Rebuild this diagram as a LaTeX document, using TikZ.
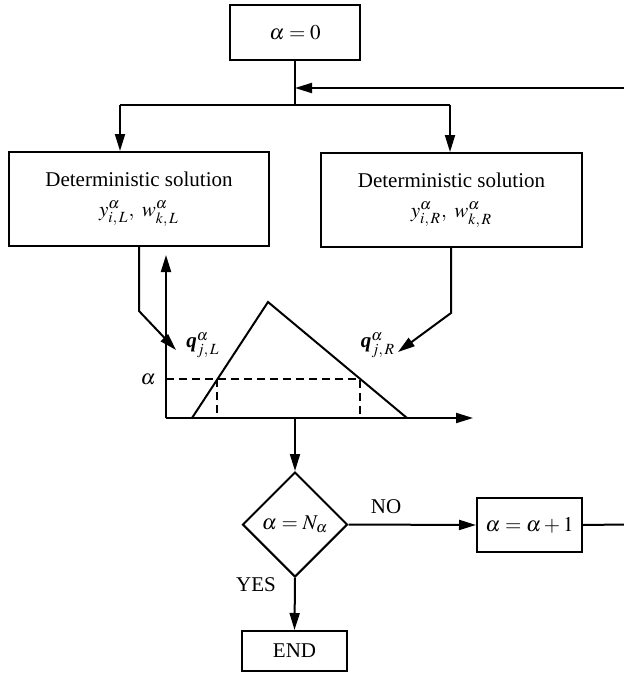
\documentclass[tikz,border=0pt]{standalone}
\usepackage{mathptmx}
\usepackage{fontspec}
\setmainfont{Liberation Serif}
\usetikzlibrary{shapes.geometric,arrows.meta}
\tikzset{
  boxnode/.style={draw,line width=1pt,inner sep=0pt,align=center,font=\fontsize{10.5}{12}\selectfont},
  ln/.style={line width=1pt},
  arr/.style={line width=1pt,-{Triangle[length=8.5pt,width=5pt]}},
  dsh/.style={line width=0.8pt,dash pattern=on 4pt off 2.5pt},
  lbl/.style={font=\fontsize{10.5}{12}\selectfont,inner sep=0pt}
}
\begin{document}
\begin{tikzpicture}[x=0.5pt,y=-0.5pt]
\useasboundingbox (0,0) rectangle (624,674);
% nodes
\node[boxnode,minimum width=65pt,minimum height=27.5pt] (a0) at (295,32.5) {$\alpha = 0$};
\node[boxnode,minimum width=130pt,minimum height=47pt] (L) at (139,199) {Deterministic solution\\[3pt] $y^{\alpha}_{i,\,L},\ w^{\alpha}_{k,\,L}$};
\node[boxnode,minimum width=130.5pt,minimum height=47pt] (R) at (451.5,200) {Deterministic solution\\[3pt] $y^{\alpha}_{i,\,R},\ w^{\alpha}_{k,\,R}$};
\node[boxnode,shape=diamond,minimum width=52.5pt,minimum height=52.5pt,shape aspect=1] (D) at (295,524.5) {$\alpha = N_{\alpha}$};
\node[boxnode,minimum width=52.5pt,minimum height=27pt] (inc) at (529.5,525) {$\alpha = \alpha + 1$};
\node[boxnode,minimum width=52.5pt,minimum height=20pt] (end) at (294.5,651) {END};
% coordinates
\coordinate (split) at (295,105);
\coordinate (sl) at (120,105);
\coordinate (sr) at (450,105);
\coordinate (rin) at (624,88);
\coordinate (rout) at (624,524.5);
\coordinate (o) at (166,418);
\coordinate (xend) at (473,418);
\coordinate (yend) at (166,255);
\coordinate (lb) at (139,311);
\coordinate (lt) at (176,350);
\coordinate (rb) at (451,313);
\coordinate (rt) at (398,352);
\coordinate (t1) at (192,418);
\coordinate (t2) at (268,302);
\coordinate (t3) at (407,418);
\coordinate (d1) at (166,379);
\coordinate (d2) at (217,379);
\coordinate (d3) at (360,379);
\coordinate (ax) at (295,418);
% connectors
\draw[ln] (a0.south) -- (split);
\draw[arr] (rin) -- (rin -| a0.south);
\draw[ln] (sl) -- (sr);
\draw[arr] (sl) -- (sl |- L.north);
\draw[arr] (sr) -- (sr |- R.north);
\draw[arr] (L.south) -- (lb) -- (lt);
\draw[arr] (R.south -| rb) -- (rb) -- (rt);
\draw[arr] (o) -- (yend);
\draw[arr] (o) -- (xend);
\draw[ln] (t1) -- (t2) -- (t3);
\draw[dsh] (d1) -- (d3) -- (d3 |- o);
\draw[dsh] (d2) -- (d2 |- o);
\draw[arr] (ax) -- (D.north);
\draw[arr] (D.east) -- (inc.west);
\draw[ln] (inc.east) -- (rout);
\draw[arr] (D.south) -- (end.north);
% labels
\node[lbl] (alab) at (148,379) {$\alpha$};
\node[lbl] (qL) at (203,345) {\textbf{\textit{q}}$^{\alpha}_{j,\,L}$};
\node[lbl] (qR) at (378,345) {\textbf{\textit{q}}$^{\alpha}_{j,\,R}$};
\node[lbl] (no) at (386,507) {NO};
\node[lbl] (yes) at (256,585) {YES};
\end{tikzpicture}
\end{document}
